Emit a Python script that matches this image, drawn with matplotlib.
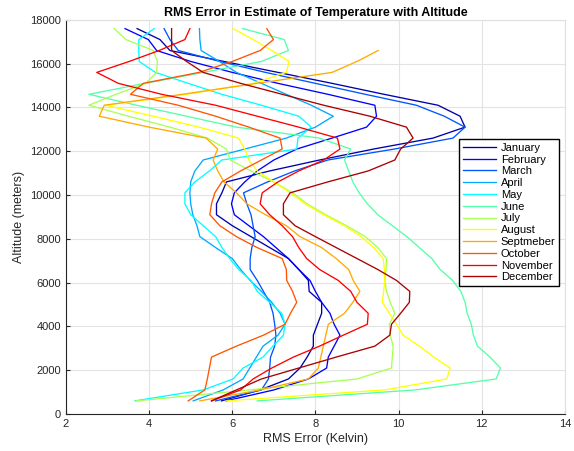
import numpy as np
import matplotlib
matplotlib.use('Agg')
import matplotlib.pyplot as plt

plt.rcParams['font.family'] = ['Liberation Sans', 'DejaVu Sans']

altitude = [600, 1100, 1600, 2100, 2600, 3100, 3600, 4100, 4600, 5100, 5600, 6100,
            6600, 7100, 7600, 8100, 8600, 9100, 9600, 10100, 10600, 11100, 11600,
            12100, 12600, 13100, 13600, 14100, 14600, 15100, 15600, 16100, 16600,
            17100, 17600]

months = ['January', 'February', 'March', 'April', 'May', 'June', 'July',
          'August', 'Septmeber', 'October', 'November', 'December']

january = [5.74, 6.67, 7.35, 7.63, 7.80, 7.95, 7.95, 8.05, 8.15, 8.15, 7.85, 7.83,
           7.60, 7.35, 6.90, 6.45, 6.00, 5.62, 5.62, 5.75, 5.86, 6.90, 8.10,
           9.40, 10.83, 11.60, 11.48, 10.95, 9.65, 8.40, 7.10, 5.80, 4.50,
           4.26, 3.71]
february = [5.85, 7.00, 7.83, 8.27, 8.31, 8.45, 8.59, 8.45, 8.35, 8.15, 8.00, 7.87,
            7.60, 7.35, 7.05, 6.75, 6.40, 6.05, 5.98, 6.05, 6.30, 6.60, 7.00,
            7.55, 8.40, 9.23, 9.47, 9.43, 8.30, 7.10, 6.00, 5.00, 4.18,
            3.98, 3.42]
march = [5.60, 6.70, 6.87, 6.90, 6.92, 7.02, 7.05, 7.02, 6.98, 6.90, 6.75, 6.60,
         6.43, 6.43, 6.47, 6.55, 6.50, 6.45, 6.35, 6.27, 6.85, 7.50, 8.30,
         9.90, 11.31, 11.60, 11.10, 10.43, 9.20, 8.00, 6.80, 5.70, 4.70,
         4.50, 4.36]
april = [5.06, 5.78, 6.26, 6.42, 6.58, 6.74, 7.10, 7.27, 7.15, 6.95, 6.70, 6.43,
         6.20, 6.00, 5.60, 5.22, 5.15, 5.05, 5.00, 4.98, 5.00, 5.10, 5.30,
         6.30, 7.30, 8.00, 8.43, 7.90, 7.30, 6.70, 6.10, 5.69, 5.25,
         5.22, 5.21]
may = [3.66, 5.30, 6.02, 6.26, 6.74, 6.98, 7.23, 7.27, 7.19, 6.90, 6.60, 6.45,
       6.15, 5.94, 5.75, 5.60, 5.30, 5.00, 4.86, 4.86, 5.10, 5.45, 5.75,
       7.55, 7.58, 7.90, 7.60, 6.70, 5.75, 4.94, 4.15, 3.76, 3.75,
       3.75, 4.12]
june = [6.60, 10.40, 12.35, 12.45, 12.20, 11.90, 11.80, 11.75, 11.65, 11.60, 11.50, 11.30,
        11.00, 10.80, 10.50, 10.20, 9.85, 9.50, 9.25, 9.05, 8.90, 8.80, 8.70,
        8.85, 8.10, 6.10, 4.90, 3.70, 2.55, 3.90, 5.30, 6.70, 7.35,
        7.25, 6.25]
july = [3.70, 6.40, 9.00, 9.83, 9.85, 9.87, 9.80, 9.78, 9.91, 9.80, 9.71, 9.67,
        9.70, 9.71, 9.50, 9.20, 8.75, 8.25, 7.80, 7.45, 7.00, 6.45, 5.95,
        5.86, 5.40, 4.50, 3.50, 2.55, 3.20, 3.92, 4.18, 4.20, 4.10,
        3.44, 3.16]
august = [5.85, 9.67, 11.16, 11.24, 10.85, 10.50, 10.11, 9.95, 9.78, 9.61, 9.64, 9.67,
          9.66, 9.63, 9.40, 9.10, 8.70, 8.20, 7.75, 7.40, 7.00, 6.60, 6.40,
          6.30, 6.15, 5.20, 4.10, 2.95, 4.90, 6.50, 7.30, 7.37, 6.95,
          6.50, 6.02]
september = [5.22, 6.67, 7.83, 8.07, 8.13, 8.19, 8.25, 8.31, 8.70, 8.90, 9.07, 8.91,
             8.80, 8.50, 8.15, 7.63, 7.30, 6.80, 6.35, 6.10, 5.80, 5.65, 5.54,
             5.65, 5.37, 4.00, 2.80, 2.92, 4.80, 6.60, 8.40, 9.00, 9.51,
             np.nan, np.nan]
october = [4.94, 5.34, 5.40, 5.45, 5.50, 6.10, 6.75, 7.27, 7.40, 7.55, 7.45, 7.31,
           7.30, 7.20, 6.60, 6.10, 5.70, 5.46, 5.50, 5.58, 5.75, 6.20, 6.70,
           7.20, 7.15, 6.40, 5.60, 4.70, 3.55, 3.86, 5.20, 6.00, 6.67,
           6.99, 6.83]
november = [5.50, 6.20, 6.50, 6.95, 7.47, 8.10, 8.67, 9.25, 9.27, 9.00, 8.85, 8.55,
            8.10, 7.79, 7.60, 7.45, 7.20, 6.90, 6.67, 6.72, 7.10, 7.60, 8.20,
            8.59, 8.53, 7.60, 6.60, 5.60, 4.30, 3.26, 2.74, 3.52, 4.24,
            4.86, 4.98]
december = [5.50, 6.10, 6.70, 7.60, 8.50, 9.43, 9.79, 9.83, 10.05, 10.26, 10.27, 9.95,
            9.50, 9.00, 8.50, 8.00, 7.51, 7.23, 7.23, 7.39, 8.30, 9.27, 9.91,
            10.05, 10.35, 10.19, 9.31, 8.20, 7.20, 6.20, 5.30, 4.90, 4.54,
            4.54, 4.54]

series = [january, february, march, april, may, june, july, august,
          september, october, november, december]

colors = [(0, 0, 0.6667), (0, 0, 1), (0, 0.3333, 1), (0, 0.6667, 1), (0, 1, 1),
          (0.3333, 1, 0.6667), (0.6667, 1, 0.3333), (1, 1, 0), (1, 0.6667, 0),
          (1, 0.3333, 0), (1, 0, 0), (0.6667, 0, 0)]

fig = plt.figure(figsize=(5.74, 4.51), dpi=100)
ax = fig.add_axes([0.115, 0.082, 0.869, 0.874])

for name, vals, c in zip(months, series, colors):
    ax.plot(vals, altitude, color=c, lw=0.95, label=name)

ax.set_xlim(2, 14)
ax.set_ylim(0, 18000)
ax.set_xticks(range(2, 15, 2))
ax.set_yticks(range(0, 18001, 2000))
ax.grid(True, color='#e3e3e3', lw=0.8)
ax.set_axisbelow(True)
ax.tick_params(direction='in', length=3, labelsize=8, colors='#262626', top=False, right=False)
for s in ['left', 'bottom']:
    ax.spines[s].set_color('#262626')
    ax.spines[s].set_linewidth(0.8)
for s in ['top', 'right']:
    ax.spines[s].set_color('#e0e0e0')
    ax.spines[s].set_linewidth(0.8)

ax.set_title('RMS Error in Estimate of Temperature with Altitude', fontsize=9,
             fontweight='bold', pad=3)
ax.set_xlabel('RMS Error (Kelvin)', fontsize=9, color='#262626', labelpad=3)
ax.set_ylabel('Altitude (meters)', fontsize=9, color='#262626', labelpad=4)

leg = ax.legend(loc='upper left', bbox_to_anchor=(0.788, 0.698), fontsize=8,
                frameon=True, fancybox=False, edgecolor='black', framealpha=1,
                labelspacing=0.16, handlelength=3.0, handletextpad=0.4,
                borderpad=0.35, borderaxespad=0)
leg.get_frame().set_linewidth(1.0)

fig.savefig('out.png', dpi=100)
